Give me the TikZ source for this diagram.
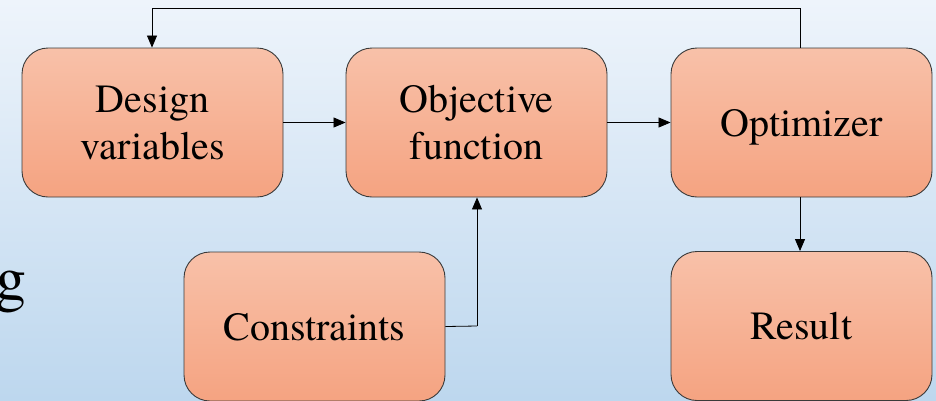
\documentclass[tikz,border=0pt]{standalone}
\usepackage{fontspec}
\setmainfont{TeX Gyre Termes}
\usetikzlibrary{arrows.meta}
\definecolor{bgtop}{HTML}{EEF4FB}
\definecolor{bgbot}{HTML}{BDD7EE}
\definecolor{boxtop}{HTML}{F8C1A9}
\definecolor{boxbot}{HTML}{F5A381}
\definecolor{edge}{HTML}{3A3A3A}
\tikzset{
  blockbox/.style={draw=edge, line width=0.9pt, rounded corners=26pt,
    top color=boxtop, bottom color=boxbot, minimum width=261pt, minimum height=149pt,
    inner sep=0pt, align=center, text depth=0pt, font=\fontsize{40}{47}\selectfont},
  conn/.style={draw=black, line width=0.8pt, -{Triangle[length=12pt,width=10pt]}},
  plain/.style={draw=black, line width=0.8pt}
}
\begin{document}
\begin{tikzpicture}[x=1pt,y=-1pt]
\useasboundingbox (0,0) rectangle (936,400);
\fill[top color=bgtop, bottom color=bgbot] (0,0) rectangle (936,400);
\node[blockbox] (dv) at (152.5,122.5) {Design\\variables};
\node[blockbox] (of) at (476.5,122.5) {Objective\\function};
\node[blockbox] (op) at (801.5,122.5) {Optimizer};
\node[blockbox] (co) at (314.5,326.5) {Constraints};
\node[blockbox] (re) at (801.5,326) {Result};
\node[anchor=base east, inner sep=0pt, font=\fontsize{62}{70}\selectfont] (g) at (27,299) {g};
\coordinate (tr) at (800,8);
\coordinate (tl) at (152,8);
\coordinate (cr) at (477,326);
\draw[plain] (op.north -| tr) -- (tr) -- (tl);
\draw[conn] (tl) -- (dv.north -| tl);
\draw[conn] (dv.east) -- (of.west);
\draw[conn] (of.east) -- (op.west);
\draw[plain] (co.east) -- (cr);
\draw[conn] (cr) -- (of.south -| cr);
\draw[conn] (op.south -| tr) -- (re.north -| tr);
\end{tikzpicture}
\end{document}
